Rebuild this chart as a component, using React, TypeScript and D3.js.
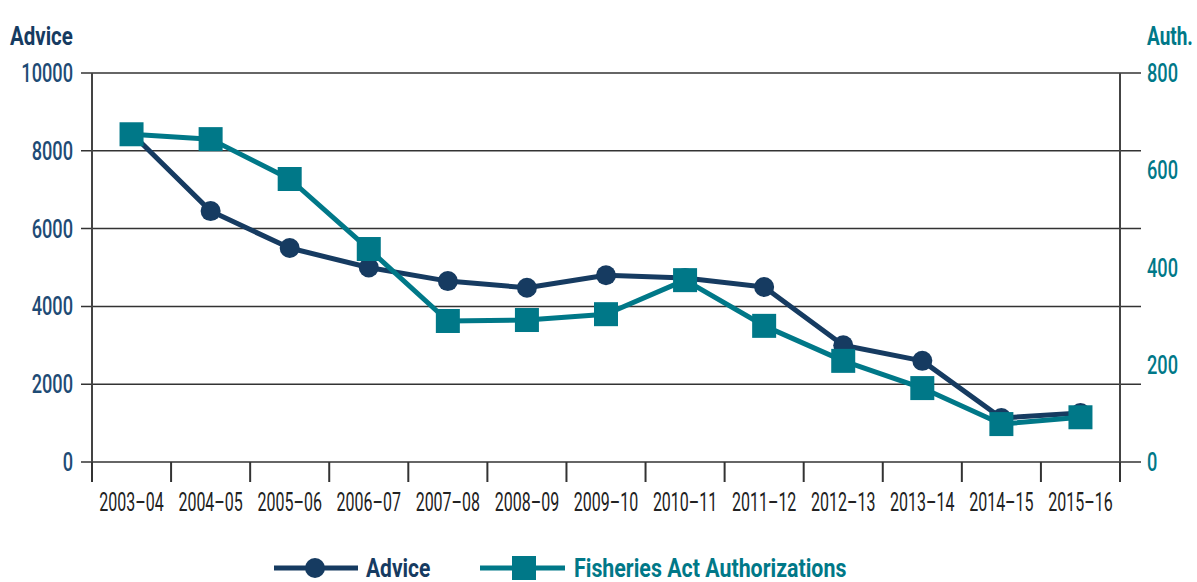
import React from 'react';
import * as d3 from 'd3';

const years = ['2003–04', '2004–05', '2005–06', '2006–07', '2007–08', '2008–09', '2009–10', '2010–11', '2011–12', '2012–13', '2013–14', '2014–15', '2015–16'];
const adviceValues = [8450, 6450, 5500, 5000, 4650, 4480, 4800, 4730, 4500, 3000, 2600, 1130, 1260];
const authValues = [674, 664, 582, 438, 290, 292, 304, 374, 280, 208, 152, 78, 92];
const leftTicks = [0, 2000, 4000, 6000, 8000, 10000];
const rightTicks = [0, 200, 400, 600, 800];

const NAVY = '#163b61';
const TEAL = '#007888';
const FONT = 'Roboto, "DejaVu Sans", sans-serif';

// condensed text: the reference uses a narrow DIN-like face, so squeeze Roboto horizontally
function CText({ x, y, sx = 0.72, anchor = 'start', size = 25, weight = 'normal', fill = '#222', children }: any) {
  return (
    <text transform={`translate(${x},${y}) scale(${sx},1)`} textAnchor={anchor} fontSize={size}
      fontWeight={weight} fill={fill}>{children}</text>
  );
}

export default function App() {
  const W = 1197, H = 582;
  const m = { left: 92, right: 77, top: 73, bottom: 120 };
  const x0 = m.left, x1 = W - m.right;
  const y0 = H - m.bottom, y1 = m.top;

  const x = d3.scaleBand<string>().domain(years).range([x0, x1]);
  const yL = d3.scaleLinear().domain([0, 10000]).range([y0, y1]);
  const yR = d3.scaleLinear().domain([0, 800]).range([y0, y1]);
  const cx = (d: string) => (x(d) ?? 0) + x.bandwidth() / 2;

  const adviceLine = d3.line<number>().x((_, i) => cx(years[i])).y(d => yL(d));
  const authLine = d3.line<number>().x((_, i) => cx(years[i])).y(d => yR(d));

  const boundaries = years.map(d => x(d) ?? 0).concat([x1]);

  return (
    <svg width={W} height={H} style={{ position: 'absolute', left: 0, top: 0, background: '#fff' }} fontFamily={FONT}>
      {/* axis titles */}
      <CText x={10} y={45} size={25} sx={0.82} weight="bold" fill={NAVY}>Advice</CText>
      <CText x={1147} y={45} size={25} sx={0.76} weight="bold" fill={TEAL}>Auth.</CText>

      {/* gridlines */}
      {leftTicks.map(t => (
        <line key={t} x1={x0 - 11} x2={x1 + 21} y1={yL(t)} y2={yL(t)} stroke="#333" strokeWidth={1.5} />
      ))}

      {/* axes */}
      <line x1={x0} x2={x0} y1={y1} y2={y0 + 20} stroke="#444" strokeWidth={2} />
      <line x1={x1} x2={x1} y1={y1} y2={y0 + 20} stroke="#444" strokeWidth={2} />
      {boundaries.map((b, i) => (
        <line key={i} x1={b} x2={b} y1={y0} y2={y0 + 20} stroke="#333" strokeWidth={2} />
      ))}

      {/* tick labels */}
      {leftTicks.map(t => (
        <CText key={t} x={x0 - 19} y={yL(t) + 9} anchor="end" size={26} sx={0.7} weight={500} fill="#1e4b75">{t}</CText>
      ))}
      {rightTicks.map(t => (
        <CText key={t} x={x1 + 27} y={yR(t) + 9} size={26} sx={0.7} weight={500} fill={TEAL}>{t}</CText>
      ))}
      {years.map(d => (
        <CText key={d} x={cx(d)} y={y0 + 49} anchor="middle" size={25} sx={0.64} fill="#222">{d}</CText>
      ))}

      {/* series */}
      <path d={adviceLine(adviceValues) ?? ''} fill="none" stroke={NAVY} strokeWidth={5} strokeLinejoin="round" />
      {adviceValues.map((v, i) => (
        <circle key={i} cx={cx(years[i])} cy={yL(v)} r={10} fill={NAVY} />
      ))}
      <path d={authLine(authValues) ?? ''} fill="none" stroke={TEAL} strokeWidth={5} strokeLinejoin="round" />
      {authValues.map((v, i) => (
        <rect key={i} x={cx(years[i]) - 12} y={yR(v) - 12} width={24} height={24} fill={TEAL} />
      ))}

      {/* legend */}
      <line x1={274} x2={358} y1={568} y2={568} stroke={NAVY} strokeWidth={5} />
      <circle cx={315} cy={568} r={10} fill={NAVY} />
      <CText x={366} y={577} size={25} sx={0.84} weight="bold" fill={NAVY}>Advice</CText>
      <line x1={480} x2={565} y1={568} y2={568} stroke={TEAL} strokeWidth={5} />
      <rect x={512} y={556} width={24} height={24} fill={TEAL} />
      <CText x={574} y={577} size={25} sx={0.855} weight="bold" fill={TEAL}>Fisheries Act Authorizations</CText>
    </svg>
  );
}
